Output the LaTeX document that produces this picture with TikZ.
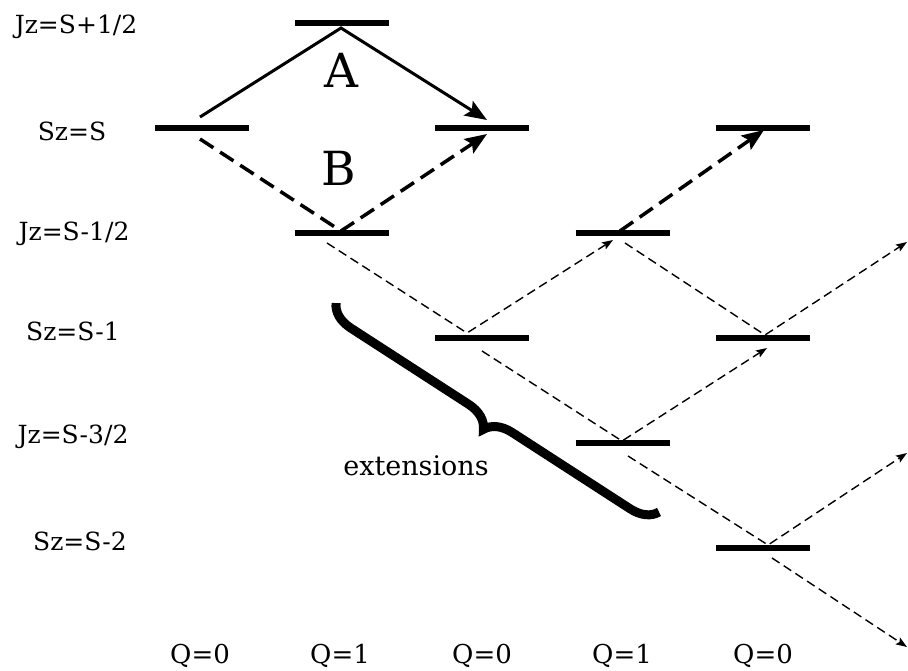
\documentclass[tikz,border=0pt]{standalone}
\usepackage{fontspec}
\setmainfont{DejaVu Serif}
\usetikzlibrary{arrows.meta,decorations.pathreplacing}
\begin{document}
\begin{tikzpicture}[x=1pt,y=-1pt,
  level/.style={line width=6pt},
  lbl/.style={font=\fontsize{25}{30}\selectfont, anchor=base, inner sep=0pt},
  qlbl/.style={font=\fontsize{26}{30}\selectfont, anchor=base, inner sep=0pt},
  big/.style={font=\fontsize{47}{54}\selectfont, anchor=base, inner sep=0pt},
  ext/.style={font=\fontsize{27}{32}\selectfont, anchor=base, inner sep=0pt},
  bighead/.style={-{Stealth[length=22pt,width=17pt,inset=4pt]}},
  solidarrow/.style={line width=3pt, line join=miter, bighead},
  thickdash/.style={line width=3.5pt, dash pattern=on 16pt off 8pt, bighead},
  thindash/.style={line width=1.4pt, dash pattern=on 9pt off 5pt},
  thinarrow/.style={thindash, -{Stealth[length=11pt,width=8pt,inset=2pt]}},
  bracestyle/.style={line width=9pt, decorate, decoration={brace, amplitude=26pt}},
]
\useasboundingbox (0,0) rectangle (908,670);

% level positions
\coordinate (c1r1) at (202,128);
\coordinate (c2r0) at (342,23);
\coordinate (c2r2) at (342,233);
\coordinate (c3r1) at (482,128);
\coordinate (c3r3) at (482,338);
\coordinate (c4r2) at (622.5,233);
\coordinate (c4r4) at (622.5,443);
\coordinate (c5r1) at (762.5,128);
\coordinate (c5r3) at (762.5,338);
\coordinate (c5r5) at (762.5,548);

% connector points
\coordinate (a0) at (200,117);
\coordinate (a1) at (341,28);
\coordinate (a2) at (487,120);
\coordinate (b0) at (200,139);
\coordinate (b1) at (341,231);
\coordinate (b2) at (487,134);
\coordinate (t0) at (620,231);
\coordinate (t1) at (764,130);
\coordinate (p10) at (327,243);
\coordinate (p11) at (467,333);
\coordinate (p12) at (613,240);
\coordinate (p20) at (625,243);
\coordinate (p21) at (765,335);
\coordinate (p22) at (907,242);
\coordinate (p30) at (482,351);
\coordinate (p31) at (622,441);
\coordinate (p32) at (767,348);
\coordinate (p40) at (628,456);
\coordinate (p41) at (768,545);
\coordinate (p42) at (907,453);
\coordinate (p50) at (772,558);
\coordinate (p51) at (907,647);
\coordinate (br0) at (336,303);
\coordinate (br1) at (659,512);

% transitions
\draw[solidarrow] (a0) -- (a1) -- (a2);
\draw[thickdash] (b0) -- (b1) -- (b2);
\draw[thickdash] (t0) -- (t1);
\draw[thinarrow] (p10) -- (p11) -- (p12);
\draw[thinarrow] (p20) -- (p21) -- (p22);
\draw[thinarrow] (p30) -- (p31) -- (p32);
\draw[thinarrow] (p40) -- (p41) -- (p42);
\draw[thinarrow] (p50) -- (p51);

% levels
\foreach \c in {c1r1,c2r0,c2r2,c3r1,c3r3,c4r2,c4r4,c5r1,c5r3,c5r5}
  \draw[level] ([xshift=-47pt]\c) -- ([xshift=47pt]\c);

% brace
\draw[bracestyle] (br1) -- (br0);

% labels
\node[lbl] (jz0) at (76,33) {Jz=S+1/2};
\node[lbl] (sz0) at (72,140) {Sz=S};
\node[lbl] (jz1) at (74,240) {Jz=S-1/2};
\node[lbl] (sz1) at (73,340) {Sz=S-1};
\node[lbl] (jz2) at (73,443) {Jz=S-3/2};
\node[lbl] (sz2) at (80,550) {Sz=S-2};

\node[qlbl] (q1) at (200,663) {Q=0};
\node[qlbl] (q2) at (340,663) {Q=1};
\node[qlbl] (q3) at (482,663) {Q=0};
\node[qlbl] (q4) at (622,663) {Q=1};
\node[qlbl] (q5) at (763,663) {Q=0};

\node[big] (la) at (341,87) {A};
\node[big] (lb) at (339,185) {B};
\node[ext] (lext) at (416,475) {extensions};
\end{tikzpicture}
\end{document}
